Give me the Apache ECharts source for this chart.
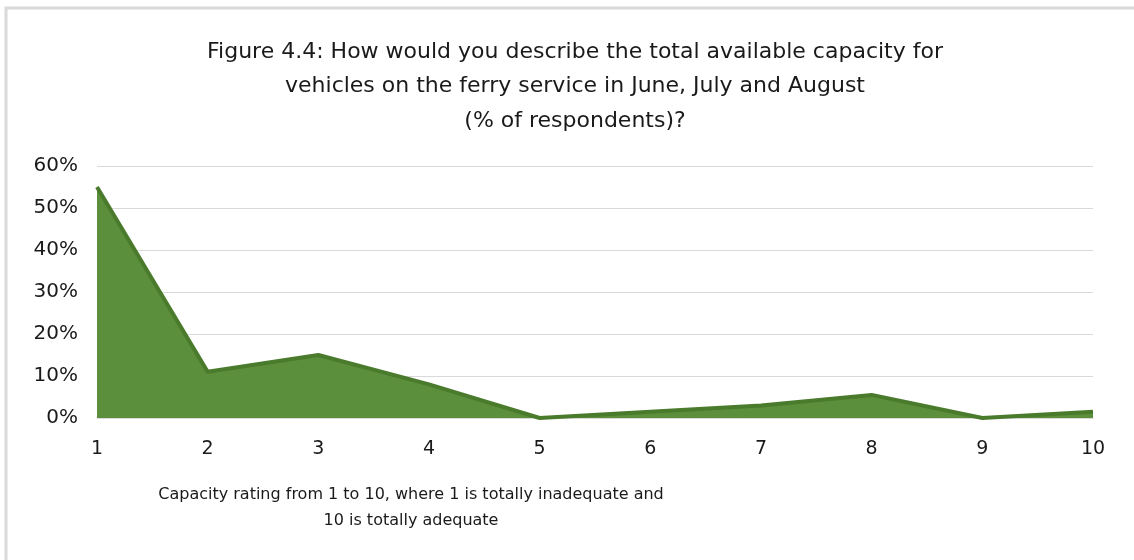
<!DOCTYPE html>
<html>
<head>
<meta charset="utf-8">
<script src="https://cdn.jsdelivr.net/npm/echarts@6/dist/echarts.min.js"></script>
<style>
  html, body { margin: 0; padding: 0; background: #ffffff; }
  #chart { width: 1134px; height: 560px; }
</style>
</head>
<body>
<div id="chart"></div>
<script>
// Capacity rating categories and share of respondents (%)
const ratings = ['1', '2', '3', '4', '5', '6', '7', '8', '9', '10'];
const shares = [55, 11, 15, 8, 0, 1.5, 3, 5.5, 0, 1.5];
const yTicks = [0, 10, 20, 30, 40, 50, 60];

const titleText = 'Figure 4.4: How would you describe the total available capacity for\nvehicles on the ferry service in June, July and August\n(% of respondents)?';
const axisTitleText = 'Capacity rating from 1 to 10, where 1 is totally inadequate and\n10 is totally adequate';

const FONT = '"DejaVu Sans", "Noto Sans", sans-serif';

const chart = echarts.init(document.getElementById('chart'), null, { renderer: 'canvas' });

chart.setOption({
  backgroundColor: '#ffffff',
  animation: false,
  title: [
    {
      text: titleText,
      left: 570,
      top: 30,
      textAlign: 'center',
      textStyle: {
        fontFamily: FONT,
        fontSize: 22,
        fontWeight: 'normal',
        color: '#1a1a1a',
        lineHeight: 34.5
      }
    },
    {
      text: axisTitleText,
      left: 406,
      top: 477,
      textAlign: 'center',
      textStyle: {
        fontFamily: FONT,
        fontSize: 16,
        fontWeight: 'normal',
        color: '#1a1a1a',
        lineHeight: 26
      }
    }
  ],
  grid: {
    left: 97,
    right: 41,
    top: 166,
    bottom: 142,
    containLabel: false
  },
  xAxis: {
    type: 'category',
    data: ratings,
    boundaryGap: false,
    axisLine: { show: true, lineStyle: { color: '#d9d9d9', width: 1 } },
    axisTick: { show: false },
    axisLabel: {
      fontFamily: FONT,
      fontSize: 19,
      color: '#1a1a1a',
      margin: 22
    },
    splitLine: { show: false }
  },
  yAxis: {
    type: 'value',
    min: yTicks[0],
    max: yTicks[yTicks.length - 1],
    interval: 10,
    axisLine: { show: false },
    axisTick: { show: false },
    axisLabel: {
      fontFamily: FONT,
      fontSize: 20,
      color: '#1a1a1a',
      margin: 19,
      formatter: v => v + '%'
    },
    splitLine: { show: true, lineStyle: { color: '#d9d9d9', width: 1 } }
  },
  series: [
    {
      type: 'line',
      data: shares,
      symbol: 'none',
      smooth: false,
      lineStyle: { color: '#4a7a2b', width: 4, join: 'round' },
      areaStyle: { color: '#5b8f3b', opacity: 1 },
      z: 3
    }
  ],
  graphic: [
    {
      type: 'polyline',
      shape: { points: [[6, 560], [6, 8], [1134, 8]] },
      style: { stroke: '#d9d9d9', lineWidth: 3, fill: null },
      silent: true
    }
  ]
});
</script>
</body>
</html>
